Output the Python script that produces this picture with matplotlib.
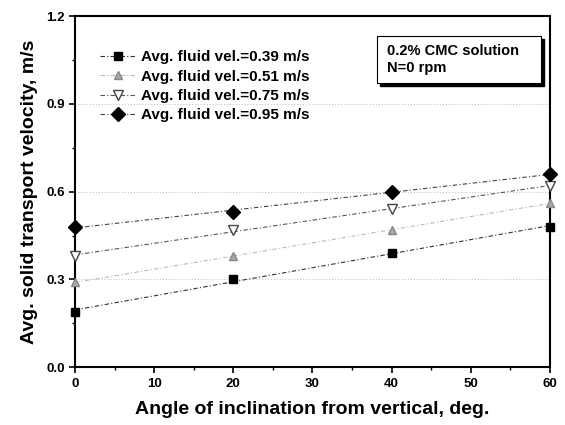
import numpy as np
import matplotlib.pyplot as plt

plt.rcParams['font.family'] = ['Liberation Sans', 'DejaVu Sans']
plt.rcParams['font.weight'] = 'bold'

angle = [0, 20, 40, 60]
v039 = [0.19, 0.30, 0.39, 0.48]
v051 = [0.29, 0.38, 0.47, 0.56]
v075 = [0.38, 0.47, 0.54, 0.62]
v095 = [0.48, 0.53, 0.60, 0.66]
labels = ['Avg. fluid vel.=0.39 m/s', 'Avg. fluid vel.=0.51 m/s',
          'Avg. fluid vel.=0.75 m/s', 'Avg. fluid vel.=0.95 m/s']

fig = plt.figure(figsize=(5.65, 4.25), dpi=100)
ax = fig.add_axes([0.133, 0.136, 0.84, 0.826])

styles = [
    dict(marker='s', mfc='black', mec='black', ms=6, lc='#333333'),
    dict(marker='^', mfc='#aaaaaa', mec='#888888', ms=6, lc='#bbbbbb'),
    dict(marker='v', mfc='white', mec='#444444', ms=7, lc='#555555'),
    dict(marker='D', mfc='black', mec='black', ms=7, lc='#444444'),
]

x = np.array(angle)
xf = np.linspace(0, 60, 50)
dash = (0, (4, 2, 1, 2))
for y, lab, st in zip([v039, v051, v075, v095], labels, styles):
    # linear fit through each series
    k, b = np.polyfit(x, y, 1)
    ax.plot(xf, k * xf + b, color=st['lc'], ls=dash, lw=0.8)
    ax.plot([], [], color=st['lc'], ls=dash, lw=0.8,
            marker=st['marker'], mfc=st['mfc'], mec=st['mec'], ms=st['ms'], label=lab)
    ax.plot(x, y, ls='none', marker=st['marker'], mfc=st['mfc'], mec=st['mec'],
            ms=st['ms'], clip_on=False, zorder=5)

ax.set_xlim(0, 60)
ax.set_ylim(0, 1.2)
ax.set_xticks(range(0, 61, 10))
ax.set_xticks(range(0, 61, 5), minor=True)
ax.set_yticks([0.0, 0.3, 0.6, 0.9, 1.2])
ax.set_yticks(np.arange(0, 1.21, 0.15), minor=True)
ax.yaxis.set_major_formatter(plt.FormatStrFormatter('%.1f'))
ax.tick_params(labelsize=9.5, width=1.2, length=4)
ax.tick_params(which='minor', width=1, length=2.5)
for lbl in ax.get_xticklabels() + ax.get_yticklabels():
    lbl.set_fontweight('bold')
for s in ax.spines.values():
    s.set_linewidth(1.5)
for yy in [0.3, 0.6, 0.9]:
    ax.axhline(yy, color='#bbbbbb', ls=(0, (1, 2)), lw=0.7, zorder=0)

ax.set_xlabel('Angle of inclination from vertical, deg.', fontsize=14,
              fontweight='bold', labelpad=8)
ax.set_ylabel('Avg. solid transport velocity, m/s', fontsize=14,
              fontweight='bold', labelpad=6)

leg = ax.legend(loc='upper left', bbox_to_anchor=(0.04, 0.92), frameon=False,
                fontsize=11, handlelength=2.3, handletextpad=0.4,
                labelspacing=0.35, borderaxespad=0)

# annotation box with drop shadow
ax.add_patch(plt.Rectangle((0.642, 0.8), 0.345, 0.134, transform=ax.transAxes,
                           fc='black', ec='black', zorder=6))
ax.add_patch(plt.Rectangle((0.636, 0.809), 0.345, 0.134, transform=ax.transAxes,
                           fc='white', ec='black', lw=0.8, zorder=7))
ax.text(0.657, 0.876, '0.2% CMC solution\nN=0 rpm', transform=ax.transAxes,
        fontsize=10.5, fontweight='bold', va='center', ha='left',
        linespacing=1.3, zorder=8)

fig.savefig('out.png', dpi=100)
